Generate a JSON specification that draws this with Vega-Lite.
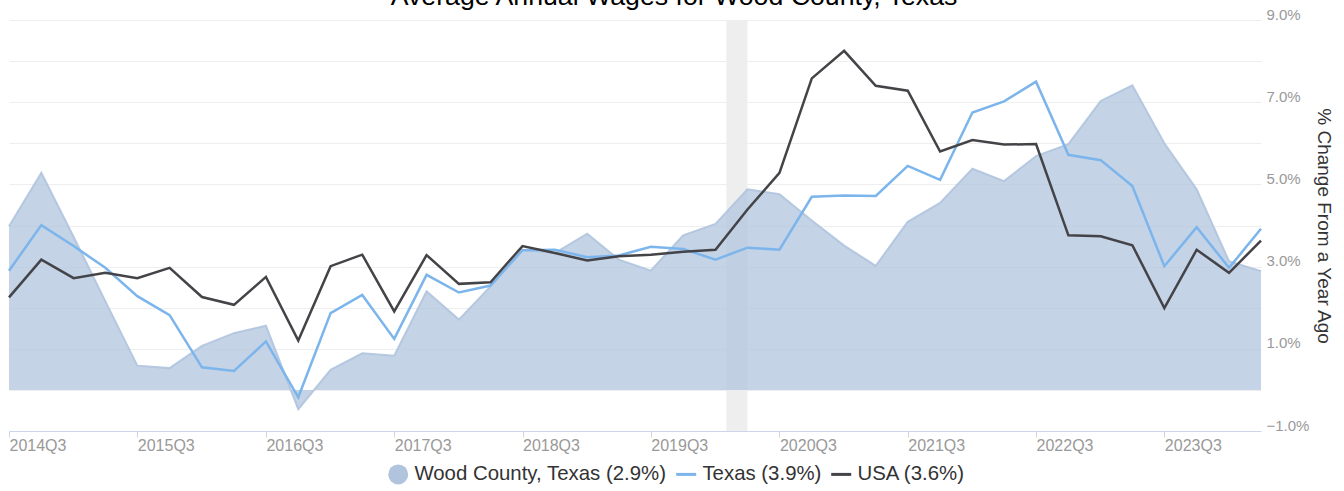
{
  "$schema": "https://vega.github.io/schema/vega-lite/v6.json",
  "width": 1252,
  "height": 411,
  "autosize": "none",
  "padding": {"left": 9, "top": 20, "right": 83, "bottom": 60},
  "config": {
    "font": "Liberation Sans",
    "view": {"stroke": null}
  },
  "title": {
    "text": "Average Annual Wages for Wood County, Texas",
    "fontSize": 26.7,
    "fontWeight": "normal",
    "color": "#000000",
    "anchor": "middle",
    "offset": 0,
    "baseline": "alphabetic",
    "dx": 39,
    "dy": 25
  },
  "datasets": {
    "recession": [
      {"start": "2020-02-01", "end": "2020-04-01"}
    ],
    "wages": [
      {"date": "2014-07-01", "series": "Wood County, Texas", "value": 3.98},
      {"date": "2014-10-01", "series": "Wood County, Texas", "value": 5.28},
      {"date": "2015-01-01", "series": "Wood County, Texas", "value": 3.72},
      {"date": "2015-04-01", "series": "Wood County, Texas", "value": 2.16},
      {"date": "2015-07-01", "series": "Wood County, Texas", "value": 0.59},
      {"date": "2015-10-01", "series": "Wood County, Texas", "value": 0.53},
      {"date": "2016-01-01", "series": "Wood County, Texas", "value": 1.07},
      {"date": "2016-04-01", "series": "Wood County, Texas", "value": 1.38},
      {"date": "2016-07-01", "series": "Wood County, Texas", "value": 1.56},
      {"date": "2016-10-01", "series": "Wood County, Texas", "value": -0.47},
      {"date": "2017-01-01", "series": "Wood County, Texas", "value": 0.49},
      {"date": "2017-04-01", "series": "Wood County, Texas", "value": 0.89},
      {"date": "2017-07-01", "series": "Wood County, Texas", "value": 0.83},
      {"date": "2017-10-01", "series": "Wood County, Texas", "value": 2.40},
      {"date": "2018-01-01", "series": "Wood County, Texas", "value": 1.71},
      {"date": "2018-04-01", "series": "Wood County, Texas", "value": 2.52},
      {"date": "2018-07-01", "series": "Wood County, Texas", "value": 3.41},
      {"date": "2018-10-01", "series": "Wood County, Texas", "value": 3.33},
      {"date": "2019-01-01", "series": "Wood County, Texas", "value": 3.80},
      {"date": "2019-04-01", "series": "Wood County, Texas", "value": 3.17},
      {"date": "2019-07-01", "series": "Wood County, Texas", "value": 2.90},
      {"date": "2019-10-01", "series": "Wood County, Texas", "value": 3.76},
      {"date": "2020-01-01", "series": "Wood County, Texas", "value": 4.04},
      {"date": "2020-04-01", "series": "Wood County, Texas", "value": 4.88},
      {"date": "2020-07-01", "series": "Wood County, Texas", "value": 4.76},
      {"date": "2020-10-01", "series": "Wood County, Texas", "value": 4.12},
      {"date": "2021-01-01", "series": "Wood County, Texas", "value": 3.51},
      {"date": "2021-04-01", "series": "Wood County, Texas", "value": 3.02},
      {"date": "2021-07-01", "series": "Wood County, Texas", "value": 4.09},
      {"date": "2021-10-01", "series": "Wood County, Texas", "value": 4.55},
      {"date": "2022-01-01", "series": "Wood County, Texas", "value": 5.38},
      {"date": "2022-04-01", "series": "Wood County, Texas", "value": 5.08},
      {"date": "2022-07-01", "series": "Wood County, Texas", "value": 5.69},
      {"date": "2022-10-01", "series": "Wood County, Texas", "value": 5.98},
      {"date": "2023-01-01", "series": "Wood County, Texas", "value": 7.03},
      {"date": "2023-04-01", "series": "Wood County, Texas", "value": 7.41},
      {"date": "2023-07-01", "series": "Wood County, Texas", "value": 6.00},
      {"date": "2023-10-01", "series": "Wood County, Texas", "value": 4.88},
      {"date": "2024-01-01", "series": "Wood County, Texas", "value": 3.13},
      {"date": "2024-04-01", "series": "Wood County, Texas", "value": 2.89},

      {"date": "2014-07-01", "series": "Texas", "value": 2.90},
      {"date": "2014-10-01", "series": "Texas", "value": 4.01},
      {"date": "2015-01-01", "series": "Texas", "value": 3.50},
      {"date": "2015-04-01", "series": "Texas", "value": 2.97},
      {"date": "2015-07-01", "series": "Texas", "value": 2.28},
      {"date": "2015-10-01", "series": "Texas", "value": 1.82},
      {"date": "2016-01-01", "series": "Texas", "value": 0.55},
      {"date": "2016-04-01", "series": "Texas", "value": 0.46},
      {"date": "2016-07-01", "series": "Texas", "value": 1.18},
      {"date": "2016-10-01", "series": "Texas", "value": -0.18},
      {"date": "2017-01-01", "series": "Texas", "value": 1.87},
      {"date": "2017-04-01", "series": "Texas", "value": 2.31},
      {"date": "2017-07-01", "series": "Texas", "value": 1.24},
      {"date": "2017-10-01", "series": "Texas", "value": 2.80},
      {"date": "2018-01-01", "series": "Texas", "value": 2.37},
      {"date": "2018-04-01", "series": "Texas", "value": 2.54},
      {"date": "2018-07-01", "series": "Texas", "value": 3.40},
      {"date": "2018-10-01", "series": "Texas", "value": 3.41},
      {"date": "2019-01-01", "series": "Texas", "value": 3.23},
      {"date": "2019-04-01", "series": "Texas", "value": 3.27},
      {"date": "2019-07-01", "series": "Texas", "value": 3.48},
      {"date": "2019-10-01", "series": "Texas", "value": 3.43},
      {"date": "2020-01-01", "series": "Texas", "value": 3.17},
      {"date": "2020-04-01", "series": "Texas", "value": 3.46},
      {"date": "2020-07-01", "series": "Texas", "value": 3.41},
      {"date": "2020-10-01", "series": "Texas", "value": 4.70},
      {"date": "2021-01-01", "series": "Texas", "value": 4.73},
      {"date": "2021-04-01", "series": "Texas", "value": 4.72},
      {"date": "2021-07-01", "series": "Texas", "value": 5.45},
      {"date": "2021-10-01", "series": "Texas", "value": 5.11},
      {"date": "2022-01-01", "series": "Texas", "value": 6.75},
      {"date": "2022-04-01", "series": "Texas", "value": 7.02},
      {"date": "2022-07-01", "series": "Texas", "value": 7.50},
      {"date": "2022-10-01", "series": "Texas", "value": 5.72},
      {"date": "2023-01-01", "series": "Texas", "value": 5.59},
      {"date": "2023-04-01", "series": "Texas", "value": 4.96},
      {"date": "2023-07-01", "series": "Texas", "value": 3.01},
      {"date": "2023-10-01", "series": "Texas", "value": 3.96},
      {"date": "2024-01-01", "series": "Texas", "value": 2.97},
      {"date": "2024-04-01", "series": "Texas", "value": 3.92},

      {"date": "2014-07-01", "series": "USA", "value": 2.25},
      {"date": "2014-10-01", "series": "USA", "value": 3.17},
      {"date": "2015-01-01", "series": "USA", "value": 2.72},
      {"date": "2015-04-01", "series": "USA", "value": 2.85},
      {"date": "2015-07-01", "series": "USA", "value": 2.72},
      {"date": "2015-10-01", "series": "USA", "value": 2.97},
      {"date": "2016-01-01", "series": "USA", "value": 2.26},
      {"date": "2016-04-01", "series": "USA", "value": 2.07},
      {"date": "2016-07-01", "series": "USA", "value": 2.75},
      {"date": "2016-10-01", "series": "USA", "value": 1.20},
      {"date": "2017-01-01", "series": "USA", "value": 3.01},
      {"date": "2017-04-01", "series": "USA", "value": 3.29},
      {"date": "2017-07-01", "series": "USA", "value": 1.91},
      {"date": "2017-10-01", "series": "USA", "value": 3.28},
      {"date": "2018-01-01", "series": "USA", "value": 2.58},
      {"date": "2018-04-01", "series": "USA", "value": 2.62},
      {"date": "2018-07-01", "series": "USA", "value": 3.50},
      {"date": "2018-10-01", "series": "USA", "value": 3.33},
      {"date": "2019-01-01", "series": "USA", "value": 3.15},
      {"date": "2019-04-01", "series": "USA", "value": 3.25},
      {"date": "2019-07-01", "series": "USA", "value": 3.29},
      {"date": "2019-10-01", "series": "USA", "value": 3.36},
      {"date": "2020-01-01", "series": "USA", "value": 3.41},
      {"date": "2020-04-01", "series": "USA", "value": 4.39},
      {"date": "2020-07-01", "series": "USA", "value": 5.28},
      {"date": "2020-10-01", "series": "USA", "value": 7.58},
      {"date": "2021-01-01", "series": "USA", "value": 8.25},
      {"date": "2021-04-01", "series": "USA", "value": 7.40},
      {"date": "2021-07-01", "series": "USA", "value": 7.28},
      {"date": "2021-10-01", "series": "USA", "value": 5.80},
      {"date": "2022-01-01", "series": "USA", "value": 6.08},
      {"date": "2022-04-01", "series": "USA", "value": 5.97},
      {"date": "2022-07-01", "series": "USA", "value": 5.98},
      {"date": "2022-10-01", "series": "USA", "value": 3.76},
      {"date": "2023-01-01", "series": "USA", "value": 3.74},
      {"date": "2023-04-01", "series": "USA", "value": 3.52},
      {"date": "2023-07-01", "series": "USA", "value": 1.99},
      {"date": "2023-10-01", "series": "USA", "value": 3.41},
      {"date": "2024-01-01", "series": "USA", "value": 2.85},
      {"date": "2024-04-01", "series": "USA", "value": 3.63}
    ]
  },
  "layer": [
    {
      "data": {"name": "recession"},
      "mark": {"type": "rect", "color": "#eeeeee"},
      "encoding": {
        "x": {"field": "start", "type": "temporal", "scale": {"type": "utc"}},
        "x2": {"field": "end"}
      }
    },
    {
      "data": {"name": "wages"},
      "transform": [{"filter": "datum.series == 'Wood County, Texas'"}],
      "mark": {"type": "area", "fillOpacity": 0.75, "line": {"strokeWidth": 2, "opacity": 0.9}},
      "encoding": {
        "x": {"field": "date", "type": "temporal"},
        "y": {"field": "value", "type": "quantitative"},
        "color": {"field": "series", "type": "nominal"}
      }
    },
    {
      "data": {"name": "wages"},
      "transform": [{"filter": "datum.series != 'Wood County, Texas'"}],
      "mark": {"type": "line", "strokeWidth": 2.5},
      "encoding": {
        "x": {
          "field": "date",
          "type": "temporal",
          "scale": {"type": "utc", "domain": ["2014-07-01", "2024-04-01"], "nice": false, "padding": 0},
          "axis": {
            "title": null,
            "values": [
              {"year": 2014, "month": 7, "date": 1, "utc": true},
              {"year": 2015, "month": 7, "date": 1, "utc": true},
              {"year": 2016, "month": 7, "date": 1, "utc": true},
              {"year": 2017, "month": 7, "date": 1, "utc": true},
              {"year": 2018, "month": 7, "date": 1, "utc": true},
              {"year": 2019, "month": 7, "date": 1, "utc": true},
              {"year": 2020, "month": 7, "date": 1, "utc": true},
              {"year": 2021, "month": 7, "date": 1, "utc": true},
              {"year": 2022, "month": 7, "date": 1, "utc": true},
              {"year": 2023, "month": 7, "date": 1, "utc": true}
            ],
            "format": "%YQ%q",
            "grid": false,
            "domainColor": "#ccd6eb",
            "tickColor": "#ccd6eb",
            "tickSize": 6,
            "labelAlign": "left",
            "labelBaseline": "top",
            "labelPadding": 0,
            "labelDx": 1,
            "labelFontSize": 16,
            "labelColor": "#999999",
            "labelFlush": false,
            "labelOverlap": false
          }
        },
        "y": {
          "field": "value",
          "type": "quantitative",
          "scale": {"domain": [-1, 9], "nice": false, "zero": false},
          "axis": {
            "orient": "right",
            "title": "% Change From a Year Ago",
            "titleFontSize": 19,
            "titleFontWeight": "normal",
            "titleColor": "#333333",
            "titleAngle": 90,
            "titleX": 62,
            "titleY": 205.5,
            "titleAlign": "center",
            "titleBaseline": "middle",
            "values": [-1, 0, 1, 2, 3, 4, 5, 6, 7, 8, 9],
            "labelExpr": "abs(datum.value % 2) == 1 ? format(datum.value, '.1f') + '%' : ''",
            "labelBaseline": "alphabetic",
            "labelOffset": -1,
            "labelPadding": 5,
            "labelFontSize": 15,
            "labelColor": "#999999",
            "labelFlush": false,
            "labelOverlap": false,
            "ticks": false,
            "domain": false,
            "grid": true,
            "gridColor": "#eeeeee",
            "gridWidth": 1
          }
        },
        "color": {
          "field": "series",
          "type": "nominal",
          "scale": {
            "domain": ["Wood County, Texas", "Texas", "USA"],
            "range": ["#b0c4de", "#7cb5ec", "#434348"]
          },
          "legend": {
            "title": null,
            "orient": "none",
            "direction": "horizontal",
            "legendX": 379,
            "legendY": 444,
            "labelFontSize": 20.4,
            "labelColor": "#333333",
            "labelOffset": 6,
            "labelLimit": 500,
            "columnPadding": 3,
            "symbolSize": 400,
            "labelExpr": "datum.label == 'Wood County, Texas' ? 'Wood County, Texas (2.9%)' : datum.label == 'Texas' ? 'Texas (3.9%)' : 'USA (3.6%)'",
            "encode": {
              "symbols": {
                "update": {
                  "shape": {"signal": "datum.value == 'Wood County, Texas' ? 'circle' : 'stroke'"},
                  "fill": {"scale": "color", "field": "value"},
                  "stroke": {"scale": "color", "field": "value"},
                  "strokeWidth": {"signal": "datum.value == 'Wood County, Texas' ? 0 : 3"},
                  "opacity": {"value": 1},
                  "fillOpacity": {"value": 1}
                }
              }
            }
          }
        }
      }
    }
  ]
}
